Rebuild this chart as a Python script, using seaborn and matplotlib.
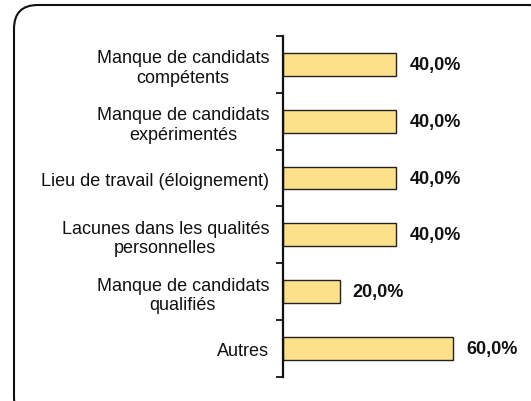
import numpy as np
import pandas as pd
import matplotlib.pyplot as plt
import seaborn as sns
from matplotlib.patches import FancyBboxPatch

# donnees du graphique
categories = [
    'Manque de candidats\ncompétents',
    'Manque de candidats\nexpérimentés',
    'Lieu de travail (éloignement)',
    'Lacunes dans les qualités\npersonnelles',
    'Manque de candidats\nqualifiés',
    'Autres',
]
pourcentages = [40.0, 40.0, 40.0, 40.0, 20.0, 60.0]

df = pd.DataFrame({'categorie': categories, 'pourcentage': pourcentages})

sns.set_style('white')
plt.rcParams['font.family'] = ['Liberation Sans', 'DejaVu Sans']

fig = plt.figure(figsize=(5.31, 4.02), dpi=100)
ax = fig.add_axes([0.533, 0.060, 0.427, 0.848])

sns.barplot(data=df, x='pourcentage', y='categorie', orient='h', color='#FDE18A',
            saturation=1, edgecolor='#222222', linewidth=1.0, width=0.4, ax=ax)

# etiquettes des valeurs
for i, v in enumerate(df['pourcentage']):
    ax.annotate(f'{v:.1f}%'.replace('.', ','), xy=(v, i), xytext=(13, 0),
                textcoords='offset pixels',
                ha='left', va='center', fontsize=13, fontweight='bold', color='#111111')

ax.set_xlim(0, 80)
ax.set_ylim(len(categories) - 0.5, -0.5)
ax.set_xlabel('')
ax.set_ylabel('')
ax.set_xticks([])

for s in ['top', 'right', 'bottom']:
    ax.spines[s].set_visible(False)
ax.spines['left'].set_color('#111111')
ax.spines['left'].set_linewidth(1.6)

# ticks aux frontieres des categories
ax.set_yticks(np.arange(-0.5, len(categories), 1.0), minor=True)
ax.tick_params(axis='y', which='minor', length=5, width=1.3, color='#111111', left=True)
ax.tick_params(axis='y', which='major', length=0, pad=10, labelsize=13, labelcolor='#111111')
for lbl in ax.get_yticklabels():
    lbl.set_multialignment('center')
    lbl.set_linespacing(1.2)

# cadre arrondi
cadre = FancyBboxPatch((14 / 531, -20 / 402), 540 / 531, 416 / 402,
                       boxstyle='round,pad=0,rounding_size=0.045',
                       transform=fig.transFigure, fill=False, edgecolor='#111111',
                       linewidth=1.5, mutation_aspect=531 / 402)
fig.patches.append(cadre)

fig.savefig('out.png', dpi=100)
